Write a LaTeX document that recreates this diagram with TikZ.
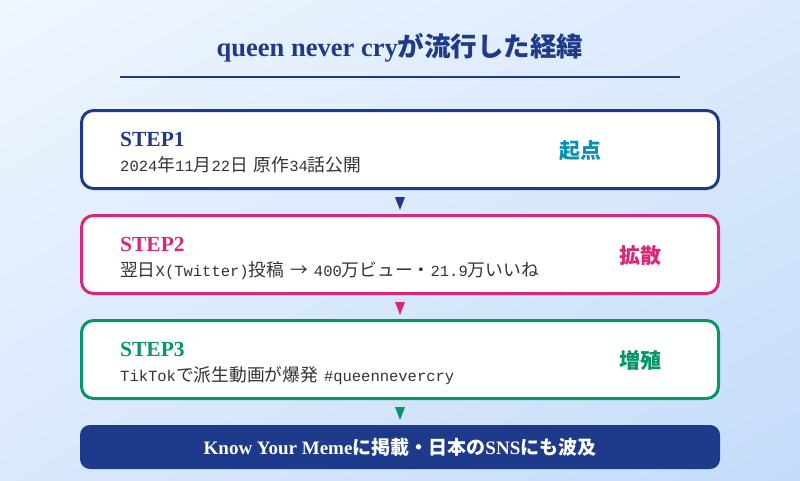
\documentclass[tikz,border=0pt]{standalone}
\usepackage{fontspec}
\setmainfont{Liberation Serif}
\newfontfamily\cjk{Noto Sans CJK JP}
\newfontfamily\mn{Liberation Mono}
\usetikzlibrary{calc,shadings}
\definecolor{navy}{RGB}{30,58,138}
\definecolor{pinkc}{RGB}{219,39,119}
\definecolor{greenc}{RGB}{5,150,105}
\definecolor{tealc}{RGB}{8,145,178}
\definecolor{bodyc}{RGB}{51,51,51}
\definecolor{bgtl}{RGB}{239,246,255}
\definecolor{bgtr}{RGB}{220,234,253}
\definecolor{bgbl}{RGB}{218,233,252}
\definecolor{bgbr}{RGB}{196,220,249}
\tikzset{
  stepbox/.style={draw, line width=3pt, fill=white, rounded corners=12pt,
    minimum width=637pt, minimum height=78pt, inner sep=0pt},
  steplbl/.style={anchor=base west, inner sep=0pt, font=\bfseries\fontsize{21.5}{24}\selectfont},
  bodytxt/.style={anchor=base west, inner sep=0pt, text=bodyc, font=\fontsize{17.75}{20}\selectfont},
  sidelbl/.style={inner sep=0pt, font=\cjk\bfseries\fontsize{21}{24}\selectfont}
}
\newcommand\mo[1]{{\mn\fontsize{15.5}{18}\selectfont #1}}
\newcommand\jp[1]{{\cjk #1}}
\newcommand\gap{\hspace{6pt}}
\begin{document}
\begin{tikzpicture}[x=1pt,y=-1pt]
\useasboundingbox (0,0) rectangle (800,480);
\shade[upper left=bgtl, upper right=bgtr, lower left=bgbl, lower right=bgbr] (0,0) rectangle (800,480);

% title
\node[anchor=base, inner sep=0pt, text=navy, font=\fontsize{26.5}{30}\selectfont] (title) at (400,56)
  {\bfseries queen never cry{\cjk\bfseries が流行した経緯}};
\coordinate (rl) at (120,77);
\coordinate (rr) at (680,77);
\draw[navy, line width=2pt] (rl) -- (rr);

% boxes
\node[stepbox, draw=navy] (s1) at (400,149.5) {};
\node[stepbox, draw=pinkc] (s2) at (400,254.5) {};
\node[stepbox, draw=greenc] (s3) at (400,359.5) {};
\node[fill=navy, rounded corners=10pt, minimum width=640pt, minimum height=44pt, inner sep=0pt] (bar) at (400,447) {};

% triangles
\foreach \a/\c in {s1/navy, s2/pinkc, s3/greenc}{
  \fill[\c] ($(\a.south)+(-5,7)$) -- ($(\a.south)+(5,7)$) -- ($(\a.south)+(0,20)$) -- cycle;
}

% step 1
\node[steplbl, text=navy] (l1) at (120,146) {STEP1};
\node[bodytxt] (b1) at (120,171) {\mo{2024}\jp{年}\mo{11}\jp{月}\mo{22}\jp{日}\gap\jp{原作}\mo{34}\jp{話公開}};
\node[sidelbl, text=tealc] (r1) at (580,151) {起点};

% step 2
\node[steplbl, text=pinkc] (l2) at (120,251) {STEP2};
\node[bodytxt] (b2) at (120,276) {\jp{翌日}\mo{X(Twitter)}\jp{投稿}\gap\jp{→}\gap\mo{400}\jp{万ビュー・}\mo{21.9}\jp{万いいね}};
\node[sidelbl, text=pinkc] (r2) at (640,256) {拡散};

% step 3
\node[steplbl, text=greenc] (l3) at (120,356) {STEP3};
\node[bodytxt] (b3) at (120,381) {\mo{TikTok}\jp{で派生動画が爆発}\gap\mo{\#queennevercry}};
\node[sidelbl, text=greenc] (r3) at (640,361) {増殖};

% bottom bar text
\node[text=white, inner sep=0pt, font=\bfseries\fontsize{19}{22}\selectfont] (bt) at (400,447)
  {Know Your Meme{\cjk\bfseries に掲載・日本の}SNS{\cjk\bfseries にも波及}};
\end{tikzpicture}
\end{document}
